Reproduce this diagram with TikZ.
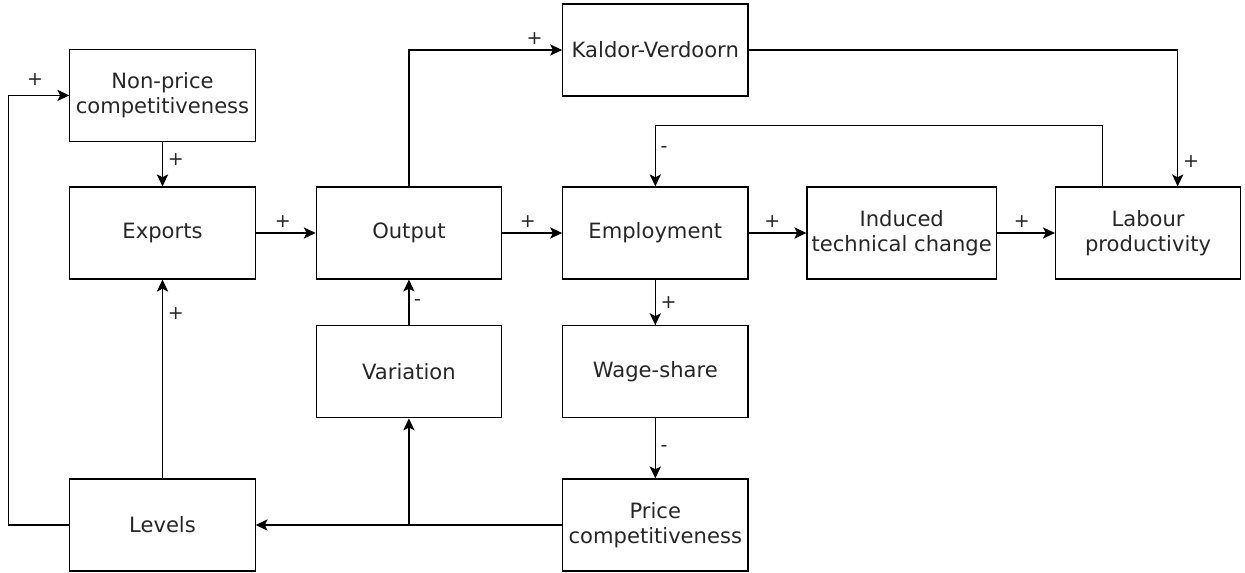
\documentclass[tikz,border=0pt]{standalone}
\usepackage{fontspec}
\setmainfont{DejaVu Sans}
\usetikzlibrary{positioning,arrows.meta}
\newdimen\colDist
\newdimen\rowDist
\colDist=6.16cm
\rowDist=3.47cm

\begin{document}
\begin{tikzpicture}[
    box/.style={%
      draw,
      rectangle,
      minimum width=4.63cm,
      minimum height=2.3cm,
      align=center,
      text=black!85,
      font=\fontsize{15}{17.8}\selectfont,
    },
    sign/.style={%
      text=black!85,
      font=\fontsize{13.5}{15}\selectfont,
    },
    line width=0.85pt,
    >={Stealth[length=8.5pt,width=8pt,inset=2pt]},
  ]

    \useasboundingbox (-4.0625,5.825) rectangle (27.0625,-8.5);

    \node [box] (exports) {Exports};
    \path (exports) ++(\colDist,0) node [box] (output) {Output};
    \path (output) ++(\colDist,0) node [box] (employment) {Employment};
    \path (employment) ++(\colDist,0) node [box] (induced) {Induced\\technical change};
    \path (induced) ++(\colDist,0) node [box] (labour) {Labour\\productivity};
    \path (exports) ++(0,3.44cm) node [box] (nonprice) {Non-price\\competitiveness};
    \path (employment) ++(0,4.575cm) node [box] (kaldor) {Kaldor-Verdoorn};
    \path (output) ++(0,-\rowDist) node [box] (variation) {Variation};
    \path (employment) ++(0,-\rowDist) node [box] (wage) {Wage-share};
    \path (exports) ++(0,-7.3cm) node [box] (levels) {Levels};
    \path (employment) ++(0,-7.3cm) node [box] (price) {Price\\competitiveness};
    \coordinate (split) at (variation.south |- price.west);


    \draw [->] (nonprice) -- (exports) node [sign,right,pos=0.4] {+};
    \draw [->] (exports) -- (output) node [sign,above,pos=0.45] {+};
    \draw [->] (output) -- (employment) node [sign,above,pos=0.43] {+};
    \draw [->] (employment) -- (induced) node [sign,above,pos=0.41] {+};
    \draw [->] (induced) -- (labour) node [sign,above,pos=0.43] {+};
    \draw [->] (output.north) |- (kaldor.west) node [sign,above,pos=0.91] {+};
    \draw [->] (kaldor.east) -| ([xshift=0.74cm]labour.north) node [sign,right,pos=0.91] {+};
    \draw [->] ([xshift=-1.14cm]labour.north) -- ++(0,1.53cm) -| (employment.north) node [sign,right,pos=0.7] {-};
    \draw [->] (employment) -- (wage) node [sign,right,pos=0.5] {+};
    \draw [->] (wage) -- (price) node [sign,right,pos=0.5] {-};
    \draw [->] (variation) -- (output) node [sign,right,pos=0.5] {-};
    \draw [->] (price) -- (levels);
    \draw [->] (split) -- (variation);
    \draw [->] (levels) -- (exports) node [sign,right,pos=0.83] {+};
    \draw [->] (levels.west) -- ++(-1.53cm,0) |- (nonprice.west) node [sign,above=3pt,pos=0.72] {+};

\end{tikzpicture}
\end{document}
